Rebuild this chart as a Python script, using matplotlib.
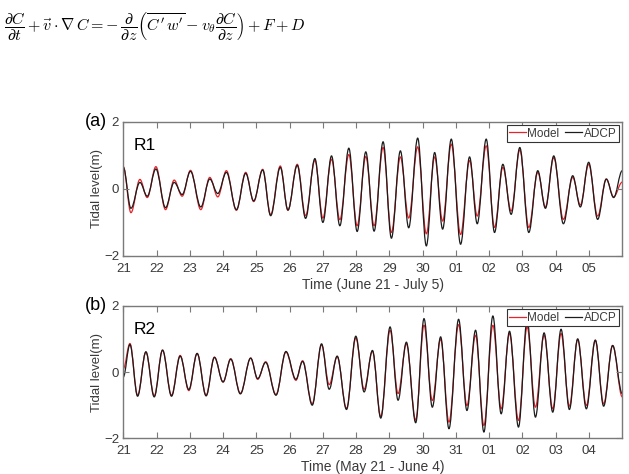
import matplotlib
matplotlib.use('Agg')
import matplotlib.pyplot as plt
from matplotlib.path import Path
from matplotlib.patches import PathPatch
from matplotlib.lines import Line2D

plt.rcParams['font.family'] = ['Liberation Sans', 'DejaVu Sans']
plt.rcParams['mathtext.fontset'] = 'cm'

# high / low water times (days from the first tick) and levels (m)
# panel (a) R1, June 21 - July 5
t_a = [0.0, 0.23, 0.50, 0.72, 0.98, 1.27, 1.53, 1.77, 2.02, 2.33, 2.60, 2.84, 3.10, 3.40,
       3.68, 3.92, 4.19, 4.43, 4.72, 4.95, 5.23, 5.48, 5.76, 6.00, 6.26, 6.51, 6.78, 7.03,
       7.29, 7.54, 7.81, 8.06, 8.33, 8.58, 8.85, 9.11, 9.36, 9.60, 9.86, 10.14, 10.41, 10.64,
       10.91, 11.16, 11.41, 11.66, 11.92, 12.19, 12.46, 12.69, 12.94, 13.23, 13.51, 13.74,
       13.99, 14.26, 14.52, 14.74, 15.0]
adcp_a = [0.64, -0.58, 0.19, -0.22, 0.59, -0.56, 0.19, -0.17, 0.52, -0.54, 0.29, -0.14, 0.49, -0.62,
          0.46, -0.36, 0.56, -0.80, 0.64, -0.63, 0.70, -0.88, 0.90, -1.00, 0.98, -1.10, 1.21, -1.27,
          1.10, -1.26, 1.40, -1.47, 1.13, -1.16, 1.51, -1.70, 1.08, -1.20, 1.48, -1.65, 0.95, -1.04,
          1.48, -1.30, 0.73, -0.76, 1.23, -1.30, 0.54, -0.58, 0.98, -1.04, 0.39, -0.54,
          0.79, -0.91, 0.29, -0.26, 0.54]
model_a = [0.66, -0.71, 0.28, -0.26, 0.66, -0.62, 0.26, -0.22, 0.55, -0.62, 0.34, -0.24, 0.54, -0.64,
           0.49, -0.38, 0.58, -0.77, 0.68, -0.64, 0.73, -0.80, 0.85, -0.87, 0.88, -0.92, 1.02, -1.10,
           0.96, -1.10, 1.23, -1.30, 0.95, -0.87, 1.25, -1.34, 0.95, -0.96, 1.33, -1.36, 0.84, -0.81,
           1.28, -1.15, 0.64, -0.66, 1.16, -1.15, 0.49, -0.54, 0.93, -0.91, 0.34, -0.48,
           0.73, -0.81, 0.29, -0.24, 0.20]

# panel (b) R2, May 21 - June 4
t_b = [0.0, 0.20, 0.43, 0.68, 0.93, 1.18, 1.45, 1.71, 1.97, 2.22, 2.49, 2.74, 3.00, 3.23,
       3.52, 3.83, 4.04, 4.28, 4.59, 4.89, 5.19, 5.39, 5.68, 5.96, 6.19, 6.43, 6.71, 6.99,
       7.24, 7.49, 7.74, 8.02, 8.26, 8.51, 8.79, 9.04, 9.29, 9.54, 9.79, 10.08, 10.33, 10.59,
       10.84, 11.11, 11.36, 11.61, 11.88, 12.14, 12.39, 12.65, 12.91, 13.16, 13.41, 13.66,
       13.92, 14.19, 14.44, 14.71, 15.0]
adcp_b = [-0.15, 0.83, -0.73, 0.61, -0.75, 0.66, -0.73, 0.48, -0.53, 0.56, -0.72, 0.44, -0.30, 0.39,
          -0.66, 0.42, -0.20, 0.29, -0.70, 0.62, -0.22, 0.32, -1.00, 0.85, -0.52, 0.48, -1.13, 1.08,
          -0.60, 0.65, -1.39, 1.36, -0.85, 0.90, -1.53, 1.61, -1.06, 1.06, -1.71, 1.59, -1.16, 1.26,
          -1.81, 1.69, -1.26, 1.23, -1.66, 1.56, -1.36, 1.18, -1.21, 1.29, -1.13, 1.00,
          -1.11, 0.96, -1.03, 0.80, -0.65]
model_b = [0.10, 0.86, -0.70, 0.60, -0.72, 0.66, -0.70, 0.50, -0.56, 0.56, -0.70, 0.45, -0.30, 0.40,
           -0.64, 0.42, -0.22, 0.31, -0.68, 0.60, -0.25, 0.34, -0.96, 0.82, -0.38, 0.46, -1.10, 1.03,
           -0.52, 0.63, -1.35, 1.26, -0.65, 0.85, -1.45, 1.41, -0.86, 0.99, -1.51, 1.43, -1.01, 1.11,
           -1.61, 1.41, -1.11, 1.16, -1.46, 1.36, -1.06, 1.11, -1.11, 1.16, -1.03, 0.98,
           -1.01, 0.96, -0.96, 0.80, -0.75]

ticks_a = ['21', '22', '23', '24', '25', '26', '27', '28', '29', '30', '01', '02', '03', '04', '05']
ticks_b = ['21', '22', '23', '24', '25', '26', '27', '28', '29', '30', '31', '01', '02', '03', '04']

RED = '#e5242b'
BLK = '#1c1c1c'
AXC = '#7a7a7a'
TXT = '#3a3a3a'


def tide_path(t, v, k=0.36):
    # smooth curve through the highs and lows (flat tangent at each extremum)
    verts = [(t[0], v[0])]
    codes = [Path.MOVETO]
    for i in range(len(t) - 1):
        dt = t[i + 1] - t[i]
        verts += [(t[i] + k * dt, v[i]), (t[i + 1] - k * dt, v[i + 1]), (t[i + 1], v[i + 1])]
        codes += [Path.CURVE4] * 3
    return Path(verts, codes)


def panel(ax, t, model, adcp, ticks, tag, site, xlabel):
    ax.add_patch(PathPatch(tide_path(t, model), fill=False, edgecolor=RED, lw=0.9))
    ax.add_patch(PathPatch(tide_path(t, adcp), fill=False, edgecolor=BLK, lw=0.9))
    ax.set_xlim(0, 15)
    ax.set_ylim(-2, 2)
    ax.set_xticks(range(len(ticks)))
    ax.set_xticklabels(ticks)
    ax.set_yticks([-2, 0, 2])
    ax.set_yticklabels(['\u22122', '0', '2'])
    ax.tick_params(direction='in', top=True, right=True, length=4, width=0.8,
                   color=AXC, labelcolor=TXT, labelsize=9.5)
    ax.tick_params(axis='x', pad=5)
    ax.tick_params(axis='y', pad=3)
    for s in ax.spines.values():
        s.set_color(AXC)
        s.set_linewidth(1.0)
    ax.set_ylabel('Tidal level(m)', fontsize=9.5, color=TXT, labelpad=1)
    ax.set_xlabel(xlabel, fontsize=10, color=TXT, labelpad=2)
    ax.text(-0.033, 1.0, tag, transform=ax.transAxes, fontsize=13, ha='right', va='center')
    ax.text(0.02, 0.82, site, transform=ax.transAxes, fontsize=12.5, ha='left', va='center')
    handles = [Line2D([], [], color=RED, lw=0.9, label='Model'),
               Line2D([], [], color=BLK, lw=0.9, label='ADCP')]
    leg = ax.legend(handles=handles, ncol=2, loc='upper right', fontsize=8.5,
                    handlelength=1.4, handletextpad=0.15, columnspacing=0.5,
                    borderpad=0.2, borderaxespad=0.3, fancybox=False, framealpha=1)
    leg.get_frame().set_edgecolor('#333333')
    leg.get_frame().set_linewidth(0.8)
    for txt in leg.get_texts():
        txt.set_color(TXT)


fig = plt.figure(figsize=(6.29, 4.74), dpi=100)

eq = (r'$\dfrac{\partial C}{\partial t}+\vec{v}\cdot\nabla\, C=-\,\dfrac{\partial}{\partial z}'
      r'\left(\overline{C^{\prime}\,w^{\prime}}-v_{\theta}\dfrac{\partial C}{\partial z}\right)+F+D$')
fig.text(0.006, 0.945, eq, fontsize=11.5, ha='left', va='center')

ax1 = fig.add_axes([0.196, 0.46, 0.7933, 0.2833])
ax2 = fig.add_axes([0.196, 0.0753, 0.7933, 0.2797])

panel(ax1, t_a, model_a, adcp_a, ticks_a, '(a)', 'R1', 'Time (June 21 - July 5)')
panel(ax2, t_b, model_b, adcp_b, ticks_b, '(b)', 'R2', 'Time (May 21 - June 4)')

fig.savefig('out.png', dpi=100)
